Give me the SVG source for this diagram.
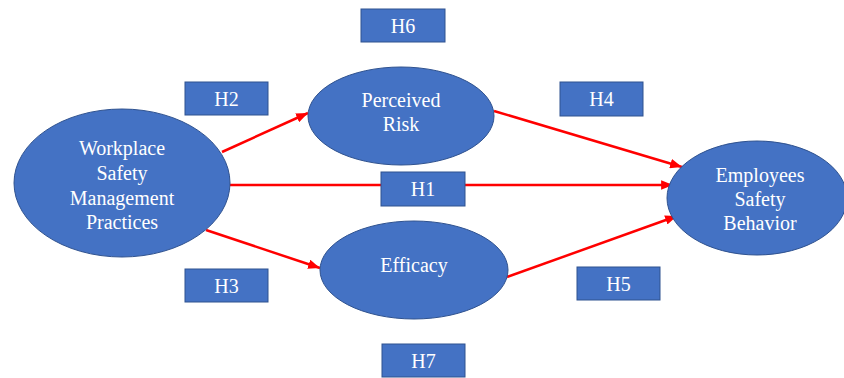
<svg xmlns="http://www.w3.org/2000/svg" width="844" height="378" viewBox="0 0 844 378">
<style>
.node{fill:#4472C4;stroke:#2F528F;stroke-width:1}
.lbl{fill:#4472C4;stroke:#2F528F;stroke-width:1}
.t{fill:#FFFFFF;font-family:'Liberation Serif','Times New Roman',serif;font-size:20px;text-anchor:middle}
.c{stroke:#FF0000;stroke-width:2.5;fill:none;marker-end:url(#ah)}
</style>
<defs>
<marker id="ah" viewBox="0 0 10 8" refX="10" refY="4" markerWidth="4.8" markerHeight="3.8" markerUnits="strokeWidth" orient="auto">
<path d="M0,0 L10,4 L0,8 z" fill="#FF0000"/>
</marker>
</defs>
<rect width="844" height="378" fill="#FFFFFF"/>
<g id="connectors">
<line class="c" x1="222" y1="152" x2="308" y2="113"/>
<line class="c" x1="230" y1="185" x2="673" y2="185"/>
<line class="c" x1="206" y1="230" x2="320" y2="268"/>
<line class="c" x1="494" y1="111" x2="682" y2="167"/>
<line class="c" x1="507" y1="277" x2="677" y2="216"/>
</g>
<g id="wsmp">
<ellipse class="node" cx="122" cy="183" rx="108" ry="74"/>
<text class="t" x="122" y="155" font-family="Liberation Serif, serif">Workplace</text>
<text class="t" x="122" y="180" font-family="Liberation Serif, serif">Safety</text>
<text class="t" x="122" y="205" font-family="Liberation Serif, serif">Management</text>
<text class="t" x="122" y="229" font-family="Liberation Serif, serif">Practices</text>
</g>
<g id="perceived-risk">
<ellipse class="node" cx="401" cy="116" rx="93" ry="49"/>
<text class="t" x="401" y="107">Perceived</text>
<text class="t" x="401" y="131">Risk</text>
</g>
<g id="efficacy">
<ellipse class="node" cx="414" cy="270" rx="94" ry="49"/>
<text class="t" x="414" y="272">Efficacy</text>
</g>
<g id="esb">
<ellipse class="node" cx="757" cy="198" rx="90" ry="57"/>
<text class="t" x="760" y="182">Employees</text>
<text class="t" x="760" y="206">Safety</text>
<text class="t" x="760" y="230">Behavior</text>
</g>
<g id="H1"><rect class="lbl" x="381" y="172" width="84" height="34"/><text class="t" x="423" y="196">H1</text></g>
<g id="H2"><rect class="lbl" x="185" y="82" width="83" height="33"/><text class="t" x="226.5" y="105.5">H2</text></g>
<g id="H3"><rect class="lbl" x="185" y="269" width="83" height="33"/><text class="t" x="226.5" y="292.5">H3</text></g>
<g id="H4"><rect class="lbl" x="560" y="82" width="83" height="34"/><text class="t" x="601.5" y="106">H4</text></g>
<g id="H5"><rect class="lbl" x="577" y="267" width="83" height="33"/><text class="t" x="618.5" y="290.5">H5</text></g>
<g id="H6"><rect class="lbl" x="361" y="9" width="84" height="33"/><text class="t" x="403" y="32.5">H6</text></g>
<g id="H7"><rect class="lbl" x="382" y="344" width="83" height="33"/><text class="t" x="423.5" y="367.5">H7</text></g>
</svg>
